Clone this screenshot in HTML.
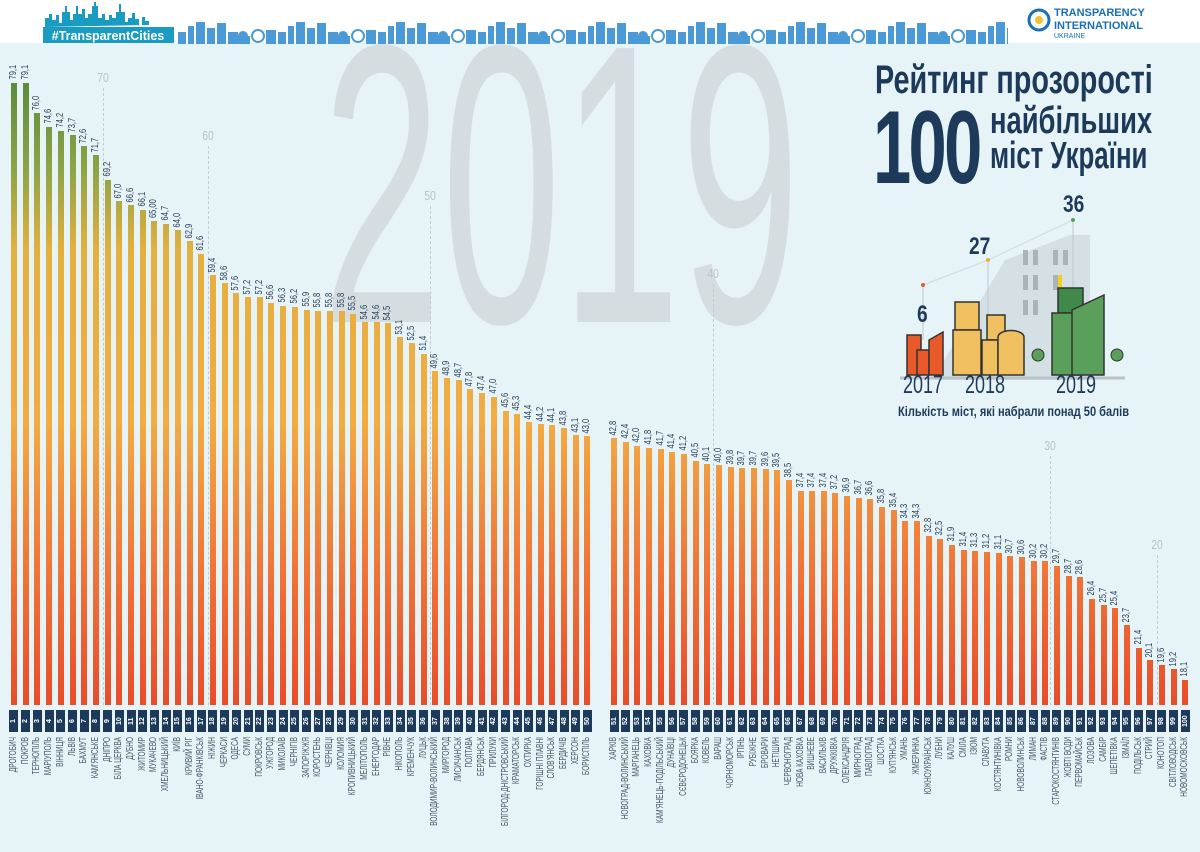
<!DOCTYPE html>
<html><head><meta charset="utf-8">
<style>
*{margin:0;padding:0;box-sizing:border-box}
body{width:1200px;height:852px;overflow:hidden;background:#e7f4f7;position:relative;font-family:"Liberation Sans",sans-serif}
#top{position:absolute;left:0;top:0;width:1200px;height:43px;background:#fff}
#big{position:absolute;left:322px;top:-14px;font:398px "Liberation Sans",sans-serif;color:#d5dde1;transform:scaleX(0.54);transform-origin:0 0;line-height:1;white-space:nowrap}
.row{position:absolute;top:0;display:flex}
.c{position:relative;width:11.71px;height:852px;flex:none}
.r .c{width:11.67px}
.c i{position:absolute;left:50%;margin-left:-3px;width:6px;bottom:147px;height:calc(var(--v)*9.79px - 152px);background:linear-gradient(to bottom,#5a8a3c 80px,#8ea446 170px,#e3b03e 250px,#f2ac42 420px,#f07838 560px,#e94e2a 700px) fixed}
.c b{position:absolute;bottom:calc(var(--v)*9.79px - 2px);left:50%;writing-mode:vertical-rl;transform-origin:50% 100%;transform:translate(-50%,-75%) rotate(180deg) scaleY(0.75);font-size:10px;font-weight:normal;color:#2a3f58;white-space:nowrap;line-height:1}
.c s{position:absolute;top:710px;left:50%;margin-left:-4.5px;width:9px;height:22px;background:#1d3a5a;color:#fff;font-size:7px;text-decoration:none;writing-mode:vertical-rl;transform:rotate(180deg);display:flex;align-items:center;justify-content:center;line-height:1;font-weight:bold}
.c u{position:absolute;top:737px;left:50%;writing-mode:vertical-rl;transform-origin:50% 0;transform:translate(-50%,65%) rotate(180deg) scaleY(0.65);text-decoration:none;white-space:nowrap;font-size:10px;color:#4a5a6c;line-height:1}
.g{position:absolute;width:0;border-left:1px dashed #c4ccd2;bottom:147px}
.gl{position:absolute;font-size:13px;color:#b8c2c8;transform:translateX(-50%) scaleX(0.8)}
.t{position:absolute;color:#1d3a5a;font-weight:bold;white-space:nowrap;line-height:1;transform-origin:0 0}
</style></head><body>
<div id="top"></div>
<svg style="position:absolute;left:0;top:0" width="1200" height="45">
<g fill="#1a9cc2">
<rect x="43" y="27" width="131" height="16"/>
<path d="M45 27V18h4v-4h3v6h4v-5h3v8h3V12h3v-6h2v6h3v8h3v-6h3v-8h2v8h4v-5h3v9h3v-4h4V6h2v-4h2v4h2v12h4v-4h3v6h4v-5h3v3h4V12h3v-8h2v8h4v10h3v-4h4v-5h3v6h4v6h3v-8h3v4h4v4z"/>
</g>
<text x="108" y="40" font-family="Liberation Sans" font-weight="bold" font-size="12.5" fill="#fff" text-anchor="middle">#TransparentCities</text>
<defs><pattern id="sk" x="178" y="18" width="100" height="26" patternUnits="userSpaceOnUse">
<g fill="#4a9ad8"><rect x="0" y="14" width="8" height="12"/><rect x="10" y="8" width="6" height="18"/><rect x="18" y="4" width="9" height="22"/><rect x="29" y="10" width="8" height="16"/><rect x="39" y="5" width="9" height="21"/><rect x="50" y="14" width="10" height="12"/><circle cx="65" cy="18" r="5"/><rect x="60" y="18" width="12" height="8"/><circle cx="80" cy="18" r="6" fill="none" stroke="#4a9ad8" stroke-width="2"/><rect x="88" y="12" width="10" height="14"/></g>
</pattern></defs>
<rect x="178" y="18" width="830" height="26" fill="url(#sk)"/>
<circle cx="1039" cy="20" r="10" fill="none" stroke="#1a6fb5" stroke-width="3"/>
<circle cx="1039" cy="20" r="4" fill="#f2c230"/>
<text x="1054" y="16" font-family="Liberation Sans" font-weight="bold" font-size="11" fill="#1a6fb5">TRANSPARENCY</text>
<text x="1054" y="29" font-family="Liberation Sans" font-weight="bold" font-size="11" fill="#1a6fb5">INTERNATIONAL</text>
<text x="1054" y="38" font-family="Liberation Sans" font-size="7" fill="#1a6fb5">UKRAINE</text>
</svg>
<div id="big">2019</div>

<div class="g" style="left:103px;top:88px"></div><div class="gl" style="left:103px;top:70px">70</div>
<div class="g" style="left:208px;top:146px"></div><div class="gl" style="left:208px;top:128px">60</div>
<div class="g" style="left:430px;top:206px"></div><div class="gl" style="left:430px;top:188px">50</div>
<div class="g" style="left:713px;top:284px"></div><div class="gl" style="left:713px;top:266px">40</div>
<div class="g" style="left:1050px;top:456px"></div><div class="gl" style="left:1050px;top:438px">30</div>
<div class="g" style="left:1157px;top:555px"></div><div class="gl" style="left:1157px;top:537px">20</div>

<div class="row" style="left:8.15px">
<div class="c" style="--v:79.1"><i></i><b>79,1</b><s>1</s><u>ДРОГОБИЧ</u></div>
<div class="c" style="--v:79.1"><i></i><b>79,1</b><s>2</s><u>ПОКРОВ</u></div>
<div class="c" style="--v:76.0"><i></i><b>76,0</b><s>3</s><u>ТЕРНОПІЛЬ</u></div>
<div class="c" style="--v:74.6"><i></i><b>74,6</b><s>4</s><u>МАРІУПОЛЬ</u></div>
<div class="c" style="--v:74.2"><i></i><b>74,2</b><s>5</s><u>ВІННИЦЯ</u></div>
<div class="c" style="--v:73.7"><i></i><b>73,7</b><s>6</s><u>ЛЬВІВ</u></div>
<div class="c" style="--v:72.6"><i></i><b>72,6</b><s>7</s><u>БАХМУТ</u></div>
<div class="c" style="--v:71.7"><i></i><b>71,7</b><s>8</s><u>КАМ'ЯНСЬКЕ</u></div>
<div class="c" style="--v:69.2"><i></i><b>69,2</b><s>9</s><u>ДНІПРО</u></div>
<div class="c" style="--v:67.0"><i></i><b>67,0</b><s>10</s><u>БІЛА ЦЕРКВА</u></div>
<div class="c" style="--v:66.6"><i></i><b>66,6</b><s>11</s><u>ДУБНО</u></div>
<div class="c" style="--v:66.1"><i></i><b>66,1</b><s>12</s><u>ЖИТОМИР</u></div>
<div class="c" style="--v:65.0"><i></i><b>65,00</b><s>13</s><u>МУКАЧЕВО</u></div>
<div class="c" style="--v:64.7"><i></i><b>64,7</b><s>14</s><u>ХМЕЛЬНИЦЬКИЙ</u></div>
<div class="c" style="--v:64.0"><i></i><b>64,0</b><s>15</s><u>КИЇВ</u></div>
<div class="c" style="--v:62.9"><i></i><b>62,9</b><s>16</s><u>КРИВИЙ РІГ</u></div>
<div class="c" style="--v:61.6"><i></i><b>61,6</b><s>17</s><u>ІВАНО-ФРАНКІВСЬК</u></div>
<div class="c" style="--v:59.4"><i></i><b>59,4</b><s>18</s><u>НІЖИН</u></div>
<div class="c" style="--v:58.6"><i></i><b>58,6</b><s>19</s><u>ЧЕРКАСИ</u></div>
<div class="c" style="--v:57.6"><i></i><b>57,6</b><s>20</s><u>ОДЕСА</u></div>
<div class="c" style="--v:57.2"><i></i><b>57,2</b><s>21</s><u>СУМИ</u></div>
<div class="c" style="--v:57.2"><i></i><b>57,2</b><s>22</s><u>ПОКРОВСЬК</u></div>
<div class="c" style="--v:56.6"><i></i><b>56,6</b><s>23</s><u>УЖГОРОД</u></div>
<div class="c" style="--v:56.3"><i></i><b>56,3</b><s>24</s><u>МИКОЛАЇВ</u></div>
<div class="c" style="--v:56.2"><i></i><b>56,2</b><s>25</s><u>ЧЕРНІГІВ</u></div>
<div class="c" style="--v:55.9"><i></i><b>55,9</b><s>26</s><u>ЗАПОРІЖЖЯ</u></div>
<div class="c" style="--v:55.8"><i></i><b>55,8</b><s>27</s><u>КОРОСТЕНЬ</u></div>
<div class="c" style="--v:55.8"><i></i><b>55,8</b><s>28</s><u>ЧЕРНІВЦІ</u></div>
<div class="c" style="--v:55.8"><i></i><b>55,8</b><s>29</s><u>КОЛОМИЯ</u></div>
<div class="c" style="--v:55.5"><i></i><b>55,5</b><s>30</s><u>КРОПИВНИЦЬКИЙ</u></div>
<div class="c" style="--v:54.6"><i></i><b>54,6</b><s>31</s><u>МЕЛІТОПОЛЬ</u></div>
<div class="c" style="--v:54.6"><i></i><b>54,6</b><s>32</s><u>ЕНЕРГОДАР</u></div>
<div class="c" style="--v:54.5"><i></i><b>54,5</b><s>33</s><u>РІВНЕ</u></div>
<div class="c" style="--v:53.1"><i></i><b>53,1</b><s>34</s><u>НІКОПОЛЬ</u></div>
<div class="c" style="--v:52.5"><i></i><b>52,5</b><s>35</s><u>КРЕМЕНЧУК</u></div>
<div class="c" style="--v:51.4"><i></i><b>51,4</b><s>36</s><u>ЛУЦЬК</u></div>
<div class="c" style="--v:49.6"><i></i><b>49,6</b><s>37</s><u>ВОЛОДИМИР-ВОЛИНСЬКИЙ</u></div>
<div class="c" style="--v:48.9"><i></i><b>48,9</b><s>38</s><u>МИРГОРОД</u></div>
<div class="c" style="--v:48.7"><i></i><b>48,7</b><s>39</s><u>ЛИСИЧАНСЬК</u></div>
<div class="c" style="--v:47.8"><i></i><b>47,8</b><s>40</s><u>ПОЛТАВА</u></div>
<div class="c" style="--v:47.4"><i></i><b>47,4</b><s>41</s><u>БЕРДЯНСЬК</u></div>
<div class="c" style="--v:47.0"><i></i><b>47,0</b><s>42</s><u>ПРИЛУКИ</u></div>
<div class="c" style="--v:45.6"><i></i><b>45,6</b><s>43</s><u>БІЛГОРОД-ДНІСТРОВСЬКИЙ</u></div>
<div class="c" style="--v:45.3"><i></i><b>45,3</b><s>44</s><u>КРАМАТОРСЬК</u></div>
<div class="c" style="--v:44.4"><i></i><b>44,4</b><s>45</s><u>ОХТИРКА</u></div>
<div class="c" style="--v:44.2"><i></i><b>44,2</b><s>46</s><u>ГОРІШНІ ПЛАВНІ</u></div>
<div class="c" style="--v:44.1"><i></i><b>44,1</b><s>47</s><u>СЛОВ'ЯНСЬК</u></div>
<div class="c" style="--v:43.8"><i></i><b>43,8</b><s>48</s><u>БЕРДИЧІВ</u></div>
<div class="c" style="--v:43.1"><i></i><b>43,1</b><s>49</s><u>ХЕРСОН</u></div>
<div class="c" style="--v:43.0"><i></i><b>43,0</b><s>50</s><u>БОРИСПІЛЬ</u></div>
</div>

<div class="row r" style="left:608.2px">
<div class="c" style="--v:42.8"><i></i><b>42,8</b><s>51</s><u>ХАРКІВ</u></div>
<div class="c" style="--v:42.4"><i></i><b>42,4</b><s>52</s><u>НОВОГРАД-ВОЛИНСЬКИЙ</u></div>
<div class="c" style="--v:42.0"><i></i><b>42,0</b><s>53</s><u>МАРГАНЕЦЬ</u></div>
<div class="c" style="--v:41.8"><i></i><b>41,8</b><s>54</s><u>КАХОВКА</u></div>
<div class="c" style="--v:41.7"><i></i><b>41,7</b><s>55</s><u>КАМ'ЯНЕЦЬ-ПОДІЛЬСЬКИЙ</u></div>
<div class="c" style="--v:41.4"><i></i><b>41,4</b><s>56</s><u>ДУНАЇВЦІ</u></div>
<div class="c" style="--v:41.2"><i></i><b>41,2</b><s>57</s><u>СЄВЄРОДОНЕЦЬК</u></div>
<div class="c" style="--v:40.5"><i></i><b>40,5</b><s>58</s><u>БОЯРКА</u></div>
<div class="c" style="--v:40.1"><i></i><b>40,1</b><s>59</s><u>КОВЕЛЬ</u></div>
<div class="c" style="--v:40.0"><i></i><b>40,0</b><s>60</s><u>ВАРАШ</u></div>
<div class="c" style="--v:39.8"><i></i><b>39,8</b><s>61</s><u>ЧОРНОМОРСЬК</u></div>
<div class="c" style="--v:39.7"><i></i><b>39,7</b><s>62</s><u>ІРПІНЬ</u></div>
<div class="c" style="--v:39.7"><i></i><b>39,7</b><s>63</s><u>РУБІЖНЕ</u></div>
<div class="c" style="--v:39.6"><i></i><b>39,6</b><s>64</s><u>БРОВАРИ</u></div>
<div class="c" style="--v:39.5"><i></i><b>39,5</b><s>65</s><u>НЕТІШИН</u></div>
<div class="c" style="--v:38.5"><i></i><b>38,5</b><s>66</s><u>ЧЕРВОНОГРАД</u></div>
<div class="c" style="--v:37.4"><i></i><b>37,4</b><s>67</s><u>НОВА КАХОВКА</u></div>
<div class="c" style="--v:37.4"><i></i><b>37,4</b><s>68</s><u>ВИШНЕВЕ</u></div>
<div class="c" style="--v:37.4"><i></i><b>37,4</b><s>69</s><u>ВАСИЛЬКІВ</u></div>
<div class="c" style="--v:37.2"><i></i><b>37,2</b><s>70</s><u>ДРУЖКІВКА</u></div>
<div class="c" style="--v:36.9"><i></i><b>36,9</b><s>71</s><u>ОЛЕКСАНДРІЯ</u></div>
<div class="c" style="--v:36.7"><i></i><b>36,7</b><s>72</s><u>МИРНОГРАД</u></div>
<div class="c" style="--v:36.6"><i></i><b>36,6</b><s>73</s><u>ПАВЛОГРАД</u></div>
<div class="c" style="--v:35.8"><i></i><b>35,8</b><s>74</s><u>ШОСТКА</u></div>
<div class="c" style="--v:35.4"><i></i><b>35,4</b><s>75</s><u>КУП'ЯНСЬК</u></div>
<div class="c" style="--v:34.3"><i></i><b>34,3</b><s>76</s><u>УМАНЬ</u></div>
<div class="c" style="--v:34.3"><i></i><b>34,3</b><s>77</s><u>ЖМЕРИНКА</u></div>
<div class="c" style="--v:32.8"><i></i><b>32,8</b><s>78</s><u>ЮЖНОУКРАЇНСЬК</u></div>
<div class="c" style="--v:32.5"><i></i><b>32,5</b><s>79</s><u>ЛУБНИ</u></div>
<div class="c" style="--v:31.9"><i></i><b>31,9</b><s>80</s><u>КАЛУШ</u></div>
<div class="c" style="--v:31.4"><i></i><b>31,4</b><s>81</s><u>СМІЛА</u></div>
<div class="c" style="--v:31.3"><i></i><b>31,3</b><s>82</s><u>ІЗЮМ</u></div>
<div class="c" style="--v:31.2"><i></i><b>31,2</b><s>83</s><u>СЛАВУТА</u></div>
<div class="c" style="--v:31.1"><i></i><b>31,1</b><s>84</s><u>КОСТЯНТИНІВКА</u></div>
<div class="c" style="--v:30.7"><i></i><b>30,7</b><s>85</s><u>РОМНИ</u></div>
<div class="c" style="--v:30.6"><i></i><b>30,6</b><s>86</s><u>НОВОВОЛИНСЬК</u></div>
<div class="c" style="--v:30.2"><i></i><b>30,2</b><s>87</s><u>ЛИМАН</u></div>
<div class="c" style="--v:30.2"><i></i><b>30,2</b><s>88</s><u>ФАСТІВ</u></div>
<div class="c" style="--v:29.7"><i></i><b>29,7</b><s>89</s><u>СТАРОКОСТЯНТИНІВ</u></div>
<div class="c" style="--v:28.7"><i></i><b>28,7</b><s>90</s><u>ЖОВТІ ВОДИ</u></div>
<div class="c" style="--v:28.6"><i></i><b>28,6</b><s>91</s><u>ПЕРВОМАЙСЬК</u></div>
<div class="c" style="--v:26.4"><i></i><b>26,4</b><s>92</s><u>ЛОЗОВА</u></div>
<div class="c" style="--v:25.7"><i></i><b>25,7</b><s>93</s><u>САМБІР</u></div>
<div class="c" style="--v:25.4"><i></i><b>25,4</b><s>94</s><u>ШЕПЕТІВКА</u></div>
<div class="c" style="--v:23.7"><i></i><b>23,7</b><s>95</s><u>ІЗМАЇЛ</u></div>
<div class="c" style="--v:21.4"><i></i><b>21,4</b><s>96</s><u>ПОДІЛЬСЬК</u></div>
<div class="c" style="--v:20.1"><i></i><b>20,1</b><s>97</s><u>СТРИЙ</u></div>
<div class="c" style="--v:19.6"><i></i><b>19,6</b><s>98</s><u>КОНОТОП</u></div>
<div class="c" style="--v:19.2"><i></i><b>19,2</b><s>99</s><u>СВІТЛОВОДСЬК</u></div>
<div class="c" style="--v:18.1"><i></i><b>18,1</b><s>100</s><u>НОВОМОСКОВСЬК</u></div>
</div>

<div class="t" style="left:875px;top:60px;font-size:40px;transform:scaleX(0.72)">Рейтинг прозорості</div>
<div class="t" style="left:873px;top:96px;font-size:104px;letter-spacing:-4px;transform:scaleX(0.66)">100</div>
<div class="t" style="left:990px;top:102px;font-size:38px;transform:scaleX(0.72)">найбільших</div>
<div class="t" style="left:990px;top:137px;font-size:38px;transform:scaleX(0.68)">міст України</div>

<svg style="position:absolute;left:890px;top:190px" width="300" height="240">
<polygon points="45,185 115,70 180,45 200,45 200,190 45,190" fill="#cdd7dd" opacity="0.7"/>
<polyline points="33,95 98,70 183,30" fill="none" stroke="#d8e0e4" stroke-width="1.5"/>
<line x1="33" y1="95" x2="33" y2="150" stroke="#c0c8cc"/><line x1="98" y1="70" x2="98" y2="130" stroke="#c0c8cc"/><line x1="183" y1="30" x2="183" y2="110" stroke="#c0c8cc"/>
<circle cx="33" cy="95" r="2" fill="#e85a2a"/><circle cx="98" cy="70" r="2" fill="#e8b040"/><circle cx="183" cy="30" r="2" fill="#5aa05a"/>
<g fill="#a8b3ba"><rect x="133" y="60" width="5" height="15"/><rect x="143" y="60" width="5" height="15"/><rect x="163" y="60" width="5" height="15"/><rect x="173" y="60" width="5" height="15"/><rect x="133" y="85" width="5" height="15"/><rect x="143" y="85" width="5" height="15"/><rect x="163" y="85" width="5" height="15"/><rect x="133" y="110" width="5" height="15"/><rect x="143" y="110" width="5" height="15"/></g>
<rect x="168" y="85" width="4" height="15" fill="#f2d020"/>
<g stroke="#333" stroke-width="1.5">
<rect x="17" y="145" width="14" height="40" fill="#e85a2a"/><rect x="27" y="160" width="12" height="25" fill="#e85a2a"/><path d="M39 185V150l14-8v43z" fill="#e85a2a"/>
<rect x="65" y="112" width="24" height="28" fill="#f0c060"/><rect x="63" y="140" width="28" height="45" fill="#f0c060"/><rect x="97" y="125" width="18" height="25" fill="#f0c060"/><rect x="92" y="150" width="16" height="35" fill="#f0c060"/><path d="M108 185v-38a12 6 0 0 1 26 0v38z" fill="#f0c060"/>
<rect x="168" y="98" width="25" height="25" fill="#3f8a4a"/><rect x="162" y="123" width="30" height="62" fill="#5aa05a"/><path d="M182 185v-65l32-15v80z" fill="#5aa05a"/>
<line x1="10" y1="188" x2="235" y2="188" stroke="#b8c2c8" stroke-width="3"/>
</g>
<circle cx="148" cy="165" r="6" fill="#5aa05a" stroke="#333"/><circle cx="227" cy="165" r="6" fill="#5aa05a" stroke="#333"/>
</svg>
<div class="t" style="left:917px;top:303px;font-size:24px;transform:scaleX(0.8)">6</div>
<div class="t" style="left:969px;top:235px;font-size:24px;transform:scaleX(0.8)">27</div>
<div class="t" style="left:1063px;top:193px;font-size:24px;transform:scaleX(0.8)">36</div>
<div class="t" style="left:903px;top:373px;font-size:25px;font-weight:normal;transform:scaleX(0.72)">2017</div>
<div class="t" style="left:965px;top:373px;font-size:25px;font-weight:normal;transform:scaleX(0.72)">2018</div>
<div class="t" style="left:1056px;top:373px;font-size:25px;font-weight:normal;transform:scaleX(0.72)">2019</div>
<div class="t" style="left:898px;top:404px;font-size:14px;transform:scaleX(0.79)">Кількість міст, які набрали понад 50 балів</div>
</body></html>
